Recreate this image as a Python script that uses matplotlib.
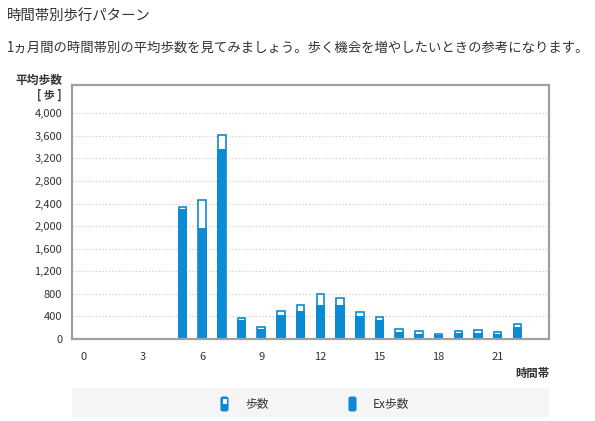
import matplotlib
matplotlib.use("Agg")
import matplotlib.pyplot as plt
from matplotlib.patches import Rectangle, FancyBboxPatch
from matplotlib.ticker import FuncFormatter

plt.rcParams['font.family'] = ['Noto Sans CJK JP', 'DejaVu Sans']

hours = list(range(24))
steps = [0, 0, 0, 0, 0, 2340, 2470, 3620, 380, 215, 490, 600, 800, 720, 480, 390,
         170, 140, 85, 145, 160, 130, 270, 0]
ex_steps = [0, 0, 0, 0, 0, 2300, 1960, 3370, 330, 170, 430, 490, 610, 600, 410, 340,
            120, 95, 70, 100, 115, 90, 215, 0]
xticks = [0, 3, 6, 9, 12, 15, 18, 21]
yticks = list(range(0, 4001, 400))

title = "時間帯別歩行パターン"
subtitle = "1ヵ月間の時間帯別の平均歩数を見てみましょう。歩く機会を増やしたいときの参考になります。"
legend_labels = ["歩数", "Ex歩数"]

BLUE = "#0a8bd3"
TXT = "#333333"
GREY = "#a0a0a0"

fig = plt.figure(figsize=(5.95, 4.21), dpi=100)
ax = fig.add_axes([72/595, 1-339/421, (549-72)/595, (339-85)/421])

lw_out = [1.2 if v > 0 else 0 for v in steps]
ax.bar(hours, steps, width=0.38, color="white", edgecolor=BLUE, linewidth=lw_out, zorder=3)
ax.bar(hours, ex_steps, width=0.465, color=BLUE, linewidth=0, zorder=4)

ax.set_xlim(-0.6, 23.6)
ax.set_ylim(0, 4500)
ax.set_xticks(xticks)
ax.set_yticks(yticks)
ax.yaxis.set_major_formatter(FuncFormatter(lambda v, p: f"{int(v):,}"))
ax.tick_params(length=0, labelsize=8, colors=TXT, pad=7)
ax.tick_params(axis='x', pad=9)
for s in ax.spines.values():
    s.set_color(GREY)
    s.set_linewidth(1.6)
    s.set_zorder(5)
ax.grid(axis='y', color="#c8c8c8", linestyle=(0, (1, 2)), linewidth=0.8, zorder=0)
ax.set_axisbelow(True)

fig.text(7/595, 1-17/421, title, fontsize=10.4, color=TXT, va='center', ha='left')
fig.text(7/595, 1-48/421, subtitle, fontsize=9.6, color=TXT, va='center', ha='left')
fig.text(62/595, 1-80/421, "平均歩数", fontsize=8.5, color=TXT, va='center', ha='right', fontweight='bold')
fig.text(62/595, 1-95/421, "[ 歩 ]", fontsize=8, color=TXT, va='center', ha='right', fontweight='bold')
fig.text(549/595, 1-373/421, "時間帯", fontsize=8.2, color=TXT, va='center', ha='right', fontweight='bold')

# legend box
fig.patches.append(Rectangle((72/595, 1-417/421), (549-72)/595, (417-388)/421,
                             transform=fig.transFigure, facecolor="#f5f5f5", edgecolor="none"))
ly = 1-404/421
iw, ih = 7/595, 14/421
fig.patches.append(FancyBboxPatch((221/595, ly-ih/2), iw, ih, boxstyle="round,pad=0,rounding_size=0.004",
                                  transform=fig.transFigure, facecolor=BLUE, edgecolor=BLUE, linewidth=0.8))
fig.patches.append(Rectangle((222.5/595, ly+0.5/421), 4/595, 5/421, transform=fig.transFigure,
                             facecolor="white", edgecolor="none"))
fig.text(245/595, ly, legend_labels[0], fontsize=8.5, color=TXT, va='center', ha='left')
fig.patches.append(FancyBboxPatch((349/595, ly-ih/2), iw, ih, boxstyle="round,pad=0,rounding_size=0.004",
                                  transform=fig.transFigure, facecolor=BLUE, edgecolor=BLUE, linewidth=0.8))
fig.text(373/595, ly, legend_labels[1], fontsize=8.5, color=TXT, va='center', ha='left')

fig.savefig("out.png", dpi=100)
